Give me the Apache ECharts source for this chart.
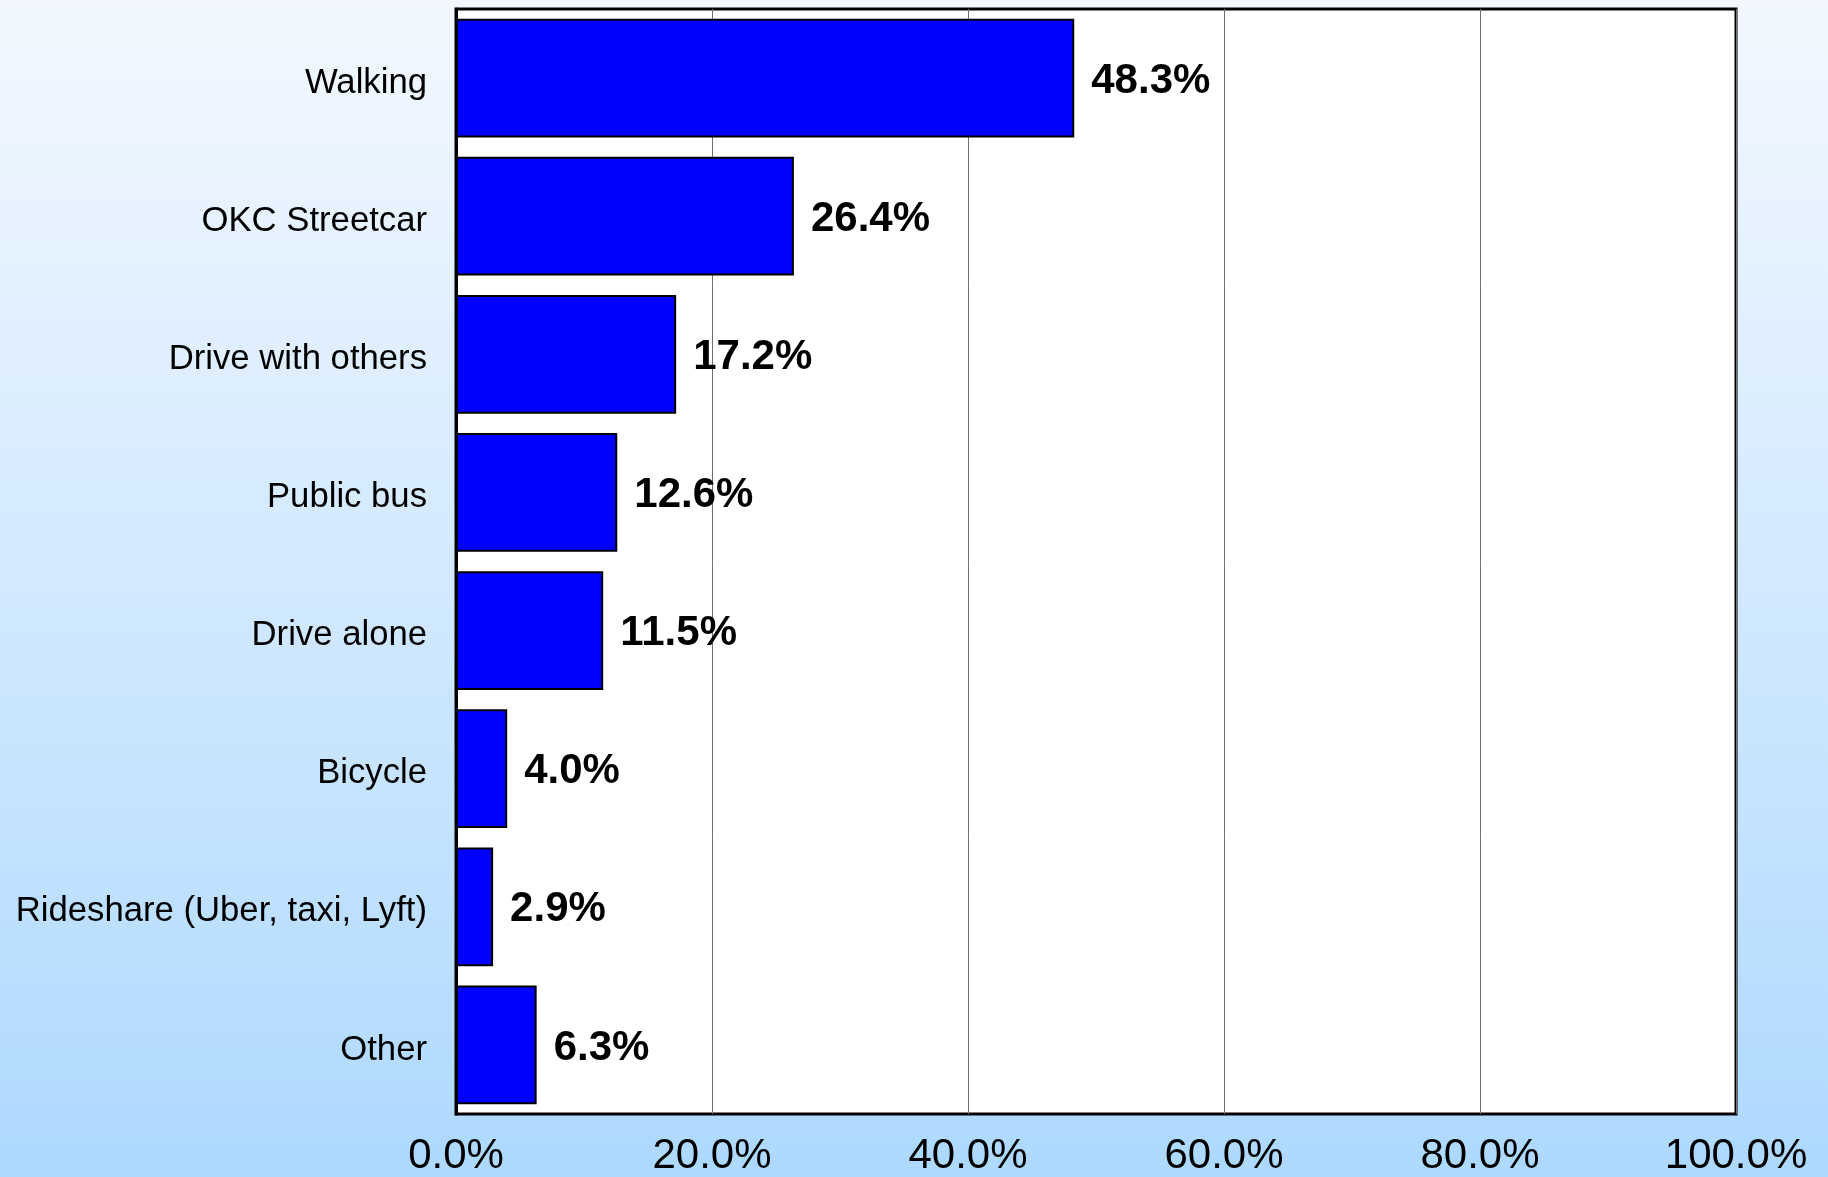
<!DOCTYPE html>
<html>
<head>
<meta charset="utf-8">
<title>Travel mode share</title>
<script src="https://cdn.jsdelivr.net/npm/echarts@6/dist/echarts.min.js"></script>
<style>
  html, body { margin: 0; padding: 0; }
  #chart { width: 1828px; height: 1177px; }
</style>
</head>
<body>
<div id="chart"></div>
<script>
// Travel modes and their share of responses (%)
const categories = [
  'Walking',
  'OKC Streetcar',
  'Drive with others',
  'Public bus',
  'Drive alone',
  'Bicycle',
  'Rideshare (Uber, taxi, Lyft)',
  'Other'
];
const shares = [48.3, 26.4, 17.2, 12.6, 11.5, 4.0, 2.9, 6.3];

// Horizontal axis range and step
const axisMin = 0;
const axisMax = 100;
const axisStep = 20;

const FONT = '"Liberation Sans", Arial, Helvetica, sans-serif';

const chart = echarts.init(document.getElementById('chart'), null, { renderer: 'canvas' });

chart.setOption({
  animation: false,
  backgroundColor: {
    type: 'linear', x: 0, y: 0, x2: 0, y2: 1,
    colorStops: [
      { offset: 0, color: '#F3F8FF' },
      { offset: 0.5, color: '#D2E9FF' },
      { offset: 1, color: '#ADD9FF' }
    ]
  },
  textStyle: { fontFamily: FONT },
  grid: {
    left: 456,
    right: 92,
    top: 9,
    bottom: 58,
    show: true,
    backgroundColor: '#FFFFFF',
    borderColor: '#000000',
    borderWidth: 3,
    containLabel: false
  },
  xAxis: {
    type: 'value',
    min: axisMin,
    max: axisMax,
    interval: axisStep,
    axisLine: { show: false },
    axisTick: { show: false },
    splitLine: { show: true, lineStyle: { color: '#707070', width: 1 } },
    axisLabel: {
      color: '#000000',
      fontFamily: FONT,
      fontSize: 42,
      margin: 21,
      formatter: v => v.toFixed(1) + '%'
    }
  },
  yAxis: {
    type: 'category',
    inverse: true,
    data: categories,
    axisLine: { show: true, lineStyle: { color: '#000000', width: 3 } },
    axisTick: { show: false },
    splitLine: { show: false },
    axisLabel: {
      color: '#000000',
      fontFamily: FONT,
      fontSize: 34.7,
      margin: 29,
      formatter: v => '{cat|' + v + '}',
      rich: {
        cat: {
          color: '#000000',
          fontFamily: FONT,
          fontSize: 34.7,
          padding: [10, 0, 0, 0]
        }
      }
    }
  },
  series: [{
    type: 'bar',
    data: shares,
    barCategoryGap: '14%',
    itemStyle: {
      color: '#0000FF',
      borderColor: '#000000',
      borderWidth: 2
    },
    label: {
      show: true,
      position: 'right',
      distance: 17,
      offset: [0, 3],
      color: '#000000',
      fontFamily: FONT,
      fontWeight: 'bold',
      fontSize: 42,
      formatter: p => p.value.toFixed(1) + '%'
    }
  }]
});
</script>
</body>
</html>
